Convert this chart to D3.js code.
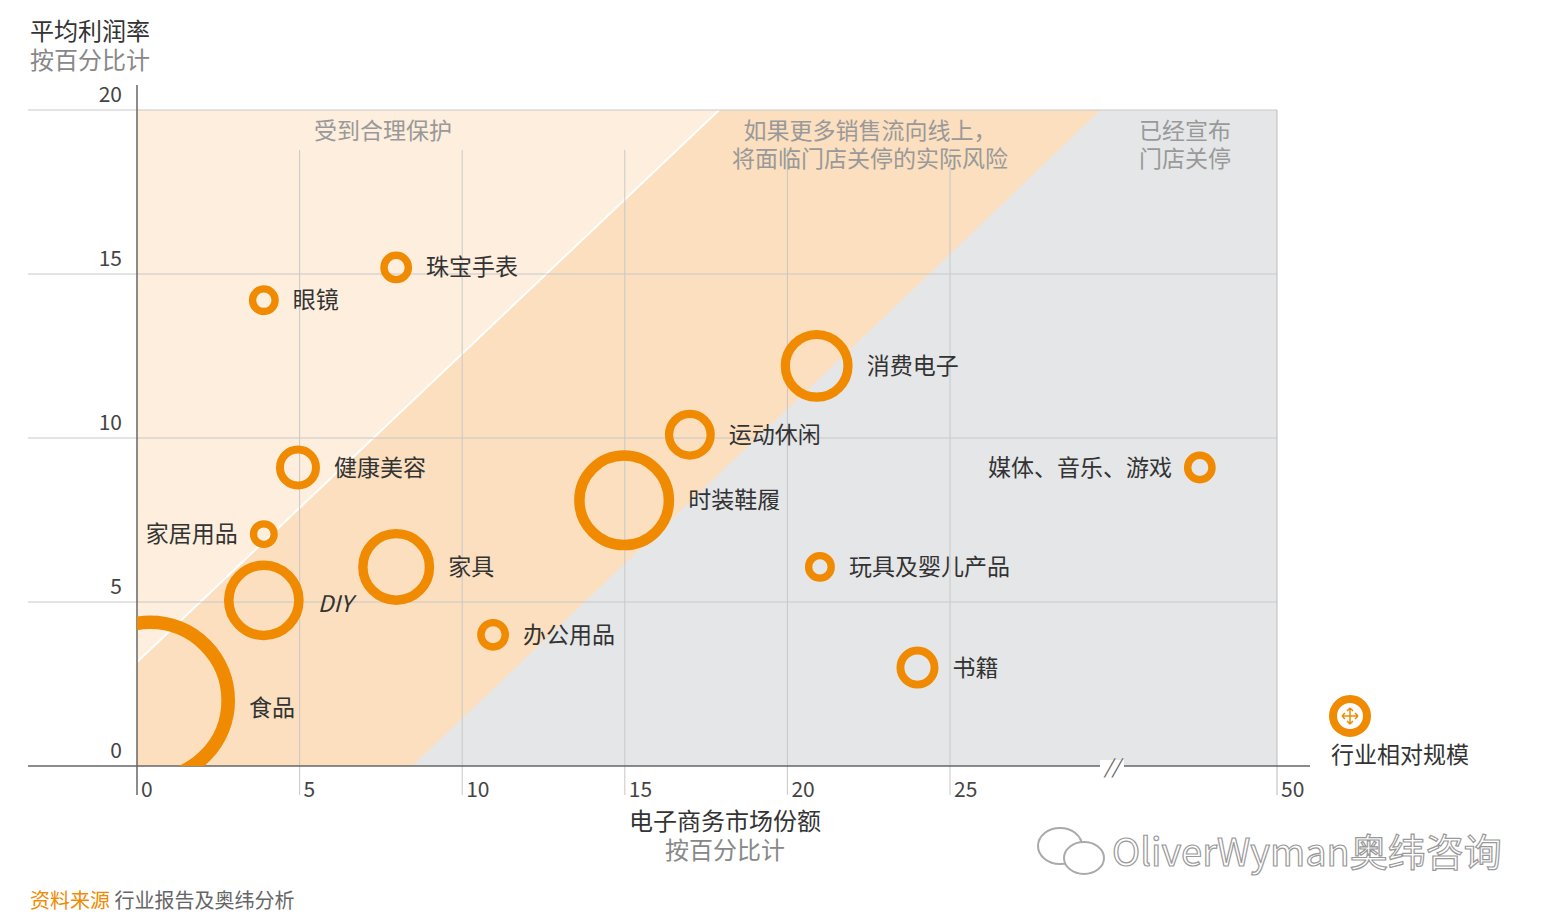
<!DOCTYPE html>
<html><head><meta charset="utf-8">
<script src="https://cdn.jsdelivr.net/npm/d3@7"></script>
<style>body{margin:0;background:#fff}text{font-family:"Noto Sans CJK SC",sans-serif}</style>
</head><body><svg width="1550" height="924"></svg>
<script>
// data
const names = ["食品","DIY","家居用品","健康美容","眼镜","珠宝手表","家具","办公用品","时装鞋履","运动休闲","消费电子","玩具及婴儿产品","书籍","媒体、音乐、游戏"];
const share = [0.4,3.9,3.9,4.95,3.9,7.97,7.97,10.95,14.98,17.0,20.9,21.0,24.0,44.1];
const margin = [2.0,5.05,7.07,9.1,14.2,15.2,6.07,4.0,8.1,10.1,12.2,6.07,3.0,9.1];
const size = [100,22,2.7,6.7,3.1,3.5,20,3.5,34.6,8.6,17.9,3.1,6.1,3.5];
const labelSide = ["right","below","left","right","right","right","right","right","right","right","right","right","right","left"];
const xTicks = [0,5,10,15,20,25,50];
const yTicks = [0,5,10,15,20];

let svg = d3.select("svg");
const orange = "#f08a00";
let x = d3.scaleLinear().domain([0,25,50]).range([137,950,1277]);
let y = d3.scaleLinear().domain([0,20]).range([766,110]);
let r = d3.scaleSqrt().domain([0,100]).range([0,85]);
let pt = (a,b) => [x(a),y(b)];

// zones
svg.append("rect").attr("x",x(0)).attr("y",y(20)).attr("width",x(50)-x(0)).attr("height",y(0)-y(20)).attr("fill","#e5e6e8");
svg.append("polygon").attr("fill","#fbdfbf")
  .attr("points",[[0,0],[0,3.17],[17.9,20],[36.5,20],[25,15.6],[8.46,0]].map(d=>pt(...d)).join(" "));
svg.append("polygon").attr("fill","#fdeedd")
  .attr("points",[[0,3.17],[17.9,20],[0,20]].map(d=>pt(...d)).join(" "));
svg.append("line").attr("x1",x(0)).attr("y1",y(3.17)).attr("x2",x(17.9)).attr("y2",y(20)).attr("stroke","#fff").attr("stroke-width",2);

// grid
svg.append("g").selectAll("line").data(yTicks.slice(1)).join("line")
  .attr("x1",28).attr("x2",x(50)).attr("y1",d=>y(d)).attr("y2",d=>y(d)).attr("stroke","#c8c8c8");
svg.append("g").selectAll("line").data(xTicks.slice(1)).join("line")
  .attr("x1",d=>x(d)).attr("x2",d=>x(d)).attr("y1",d=>d==50?y(20):150).attr("y2",795)
  .attr("stroke",d=>d==50?"#bbb":"#c8c8c8");

// axes
svg.append("line").attr("x1",137).attr("x2",137).attr("y1",85).attr("y2",795).attr("stroke","#666").attr("stroke-width",1.5);
svg.append("line").attr("x1",28).attr("x2",1310).attr("y1",y(0)).attr("y2",y(0)).attr("stroke","#666").attr("stroke-width",1.5);
svg.append("rect").attr("x",1100).attr("y",y(0)-6).attr("width",24).attr("height",12).attr("fill","#fff");
svg.append("text").attr("x",1112).attr("y",y(0)+8).attr("text-anchor","middle").attr("font-size",20).attr("fill","#666").attr("font-style","italic").text("//");
svg.append("g").selectAll("text").data(xTicks).join("text")
  .attr("x",d=>x(d)+4).attr("y",797).attr("font-size",21).attr("fill","#444").text(d=>d);
svg.append("g").selectAll("text").data(yTicks).join("text")
  .attr("x",122).attr("y",d=>y(d)-8).attr("text-anchor","end").attr("font-size",21).attr("fill","#444").text(d=>d);

// zone labels
const zl = [[383,["受到合理保护"]],[870,["如果更多销售流向线上，","将面临门店关停的实际风险"]],[1185,["已经宣布","门店关停"]]];
zl.forEach(([cx,lines]) => lines.forEach((t,i)=>svg.append("text").attr("x",cx).attr("y",139+i*28)
  .attr("text-anchor","middle").attr("font-size",23).attr("fill","#999").text(t)));

// bubbles
svg.append("clipPath").attr("id","plot").append("rect").attr("x",x(0)).attr("y",0).attr("width",x(50)).attr("height",y(0));
let g = svg.append("g").attr("clip-path","url(#plot)");
names.forEach((n,i) => {
  let R = r(size[i]), sw = 6 + R*0.09;
  g.append("circle").attr("cx",x(share[i])).attr("cy",y(margin[i])).attr("r",R-sw/2)
    .attr("fill","none").attr("stroke",orange).attr("stroke-width",sw);
  let lx = x(share[i]), ly = y(margin[i]) + 8, anchor = "start", style = "normal";
  if (labelSide[i]=="right") lx += R + 14;
  if (labelSide[i]=="left") { lx -= R + 12; anchor = "end"; }
  if (labelSide[i]=="below") { lx += R + 14; ly += 4; style = "italic"; }
  if (i==0) ly += 8;
  svg.append("text").attr("x",lx).attr("y",ly).attr("text-anchor",anchor).attr("font-style",style)
    .attr("font-size",23).attr("fill","#333").text(n);
});

// legend
let lg = svg.append("g").attr("transform","translate(1350,716)");
lg.append("circle").attr("r",17).attr("fill","none").attr("stroke",orange).attr("stroke-width",8);
lg.append("path").attr("d","M-8,0H8M0,-8V8M-8,0l3,-3M-8,0l3,3M8,0l-3,-3M8,0l-3,3M0,-8l-3,3M0,-8l3,3M0,8l-3,-3M0,8l3,-3")
  .attr("stroke",orange).attr("stroke-width",1.5).attr("fill","none");
svg.append("text").attr("x",1400).attr("y",763).attr("text-anchor","middle").attr("font-size",23).attr("fill","#333").text("行业相对规模");

// titles
svg.append("text").attr("x",30).attr("y",40).attr("font-size",24).attr("fill","#333").text("平均利润率");
svg.append("text").attr("x",30).attr("y",69).attr("font-size",24).attr("fill","#888").text("按百分比计");
svg.append("text").attr("x",725).attr("y",830).attr("text-anchor","middle").attr("font-size",24).attr("fill","#333").text("电子商务市场份额");
svg.append("text").attr("x",725).attr("y",859).attr("text-anchor","middle").attr("font-size",24).attr("fill","#888").text("按百分比计");
let src = svg.append("text").attr("x",30).attr("y",908).attr("font-size",20);
src.append("tspan").attr("fill",orange).text("资料来源 ");
src.append("tspan").attr("fill","#666").text("行业报告及奥纬分析");

// watermark
let wm = svg.append("g").attr("transform","translate(1068,852)");
wm.append("ellipse").attr("cx",-8).attr("cy",-6).attr("rx",22).attr("ry",18).attr("fill","#fff").attr("stroke","#aaa").attr("stroke-width",2);
wm.append("ellipse").attr("cx",16).attr("cy",6).attr("rx",20).attr("ry",16).attr("fill","#fff").attr("stroke","#aaa").attr("stroke-width",2);
svg.append("text").attr("x",1112).attr("y",866).attr("font-size",38).attr("fill","#fff")
  .attr("stroke","#999").attr("stroke-width",1.2).text("OliverWyman奥纬咨询");
</script></body></html>
